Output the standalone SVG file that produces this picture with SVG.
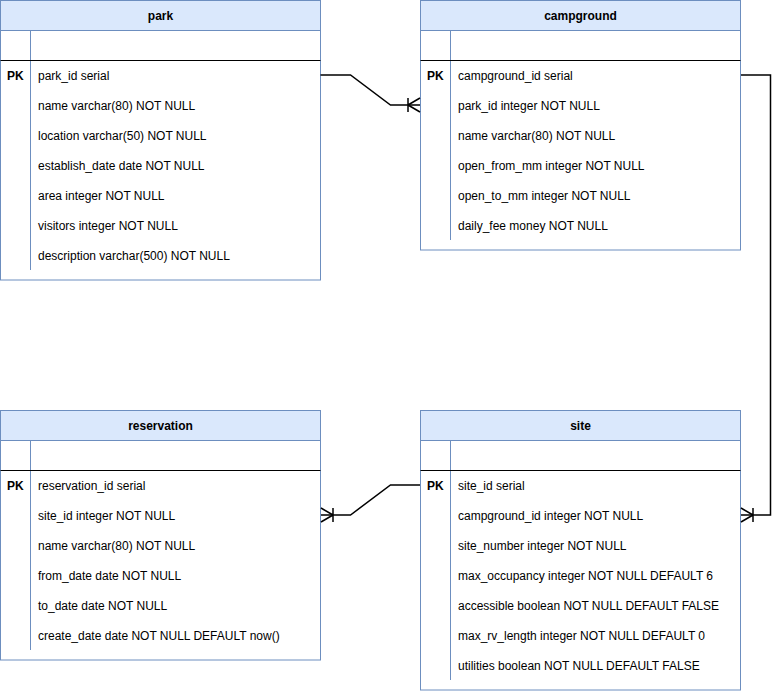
<svg xmlns="http://www.w3.org/2000/svg" width="784" height="691" viewBox="0 0 784 691">
<style>
.hdr{fill:#dae8fc;stroke:#6c8ebf;stroke-width:1}
.body{fill:#ffffff;stroke:#6c8ebf;stroke-width:1}
.sep{stroke:#6c8ebf;stroke-width:1;fill:none}
.div{stroke:#000000;stroke-width:1;fill:none}
.t{font-family:"Liberation Sans",Arial,sans-serif;font-size:12px;fill:#000000}
.b{font-weight:bold}
.c{text-anchor:middle}
.con{stroke:#000000;stroke-width:1.5;fill:none}
</style>
<rect x="0" y="0" width="784" height="691" fill="#ffffff"/>
<g id="park">
<rect class="body" x="0.5" y="0.5" width="320" height="279.5"/>
<rect class="hdr" x="0.5" y="0.5" width="320" height="30"/>
<text class="t b c" x="160.5" y="20">park</text>
<line class="sep" x1="30.5" y1="30.5" x2="30.5" y2="270"/>
<line class="div" x1="0.5" y1="60.5" x2="320.5" y2="60.5"/>
<text class="t b" x="7" y="80">PK</text>
<text class="t" x="38" y="80">park_id serial</text>
<text class="t" x="38" y="110">name varchar(80) NOT NULL</text>
<text class="t" x="38" y="140">location varchar(50) NOT NULL</text>
<text class="t" x="38" y="170">establish_date date NOT NULL</text>
<text class="t" x="38" y="200">area integer NOT NULL</text>
<text class="t" x="38" y="230">visitors integer NOT NULL</text>
<text class="t" x="38" y="260">description varchar(500) NOT NULL</text>
</g>
<g id="campground">
<rect class="body" x="420.5" y="0.5" width="320" height="249.5"/>
<rect class="hdr" x="420.5" y="0.5" width="320" height="30"/>
<text class="t b c" x="580.5" y="20">campground</text>
<line class="sep" x1="450.5" y1="30.5" x2="450.5" y2="240"/>
<line class="div" x1="420.5" y1="60.5" x2="740.5" y2="60.5"/>
<text class="t b" x="427" y="80">PK</text>
<text class="t" x="458" y="80">campground_id serial</text>
<text class="t" x="458" y="110">park_id integer NOT NULL</text>
<text class="t" x="458" y="140">name varchar(80) NOT NULL</text>
<text class="t" x="458" y="170">open_from_mm integer NOT NULL</text>
<text class="t" x="458" y="200">open_to_mm integer NOT NULL</text>
<text class="t" x="458" y="230">daily_fee money NOT NULL</text>
</g>
<g id="reservation">
<rect class="body" x="0.5" y="410.5" width="320" height="249.5"/>
<rect class="hdr" x="0.5" y="410.5" width="320" height="30"/>
<text class="t b c" x="160.5" y="430">reservation</text>
<line class="sep" x1="30.5" y1="440.5" x2="30.5" y2="650"/>
<line class="div" x1="0.5" y1="470.5" x2="320.5" y2="470.5"/>
<text class="t b" x="7" y="490">PK</text>
<text class="t" x="38" y="490">reservation_id serial</text>
<text class="t" x="38" y="520">site_id integer NOT NULL</text>
<text class="t" x="38" y="550">name varchar(80) NOT NULL</text>
<text class="t" x="38" y="580">from_date date NOT NULL</text>
<text class="t" x="38" y="610">to_date date NOT NULL</text>
<text class="t" x="38" y="640">create_date date NOT NULL DEFAULT now()</text>
</g>
<g id="site">
<rect class="body" x="420.5" y="410.5" width="320" height="279.5"/>
<rect class="hdr" x="420.5" y="410.5" width="320" height="30"/>
<text class="t b c" x="580.5" y="430">site</text>
<line class="sep" x1="450.5" y1="440.5" x2="450.5" y2="680"/>
<line class="div" x1="420.5" y1="470.5" x2="740.5" y2="470.5"/>
<text class="t b" x="427" y="490">PK</text>
<text class="t" x="458" y="490">site_id serial</text>
<text class="t" x="458" y="520">campground_id integer NOT NULL</text>
<text class="t" x="458" y="550">site_number integer NOT NULL</text>
<text class="t" x="458" y="580">max_occupancy integer NOT NULL DEFAULT 6</text>
<text class="t" x="458" y="610">accessible boolean NOT NULL DEFAULT FALSE</text>
<text class="t" x="458" y="640">max_rv_length integer NOT NULL DEFAULT 0</text>
<text class="t" x="458" y="670">utilities boolean NOT NULL DEFAULT FALSE</text>
</g>
<g id="connectors">
<path class="con" d="M320.5,75 L350.5,75 L390.5,105 L420,105"/>
<path class="con" d="M408,98 L408,112 M408,105 L420,98 M408,105 L420,112"/>
<path class="con" d="M420,485 L390.5,485 L350.5,515 L321,515"/>
<path class="con" d="M333,508 L333,522 M333,515 L321,508 M333,515 L321,522"/>
<path class="con" d="M741,75 L770.5,75 L770.5,515 L741,515"/>
<path class="con" d="M753,508 L753,522 M753,515 L741,508 M753,515 L741,522"/>
</g>
</svg>
